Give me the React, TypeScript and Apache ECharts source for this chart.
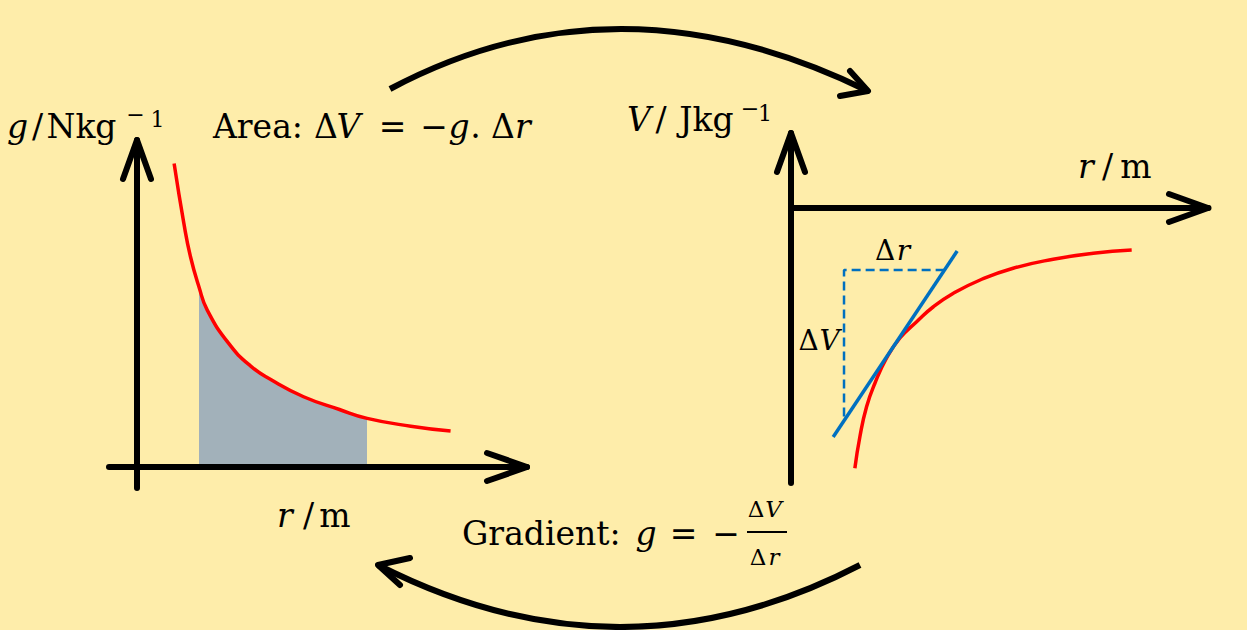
import React, { useEffect, useRef } from "react";
import * as echarts from "echarts";

// ---- Data ----
// Left: field strength g against distance r (arbitrary units)
const gR = [0.95, 1.2, 1.37, 1.59, 1.8, 2.35, 2.9, 3.45, 4.27, 5.19, 5.9, 7.02, 8.04];
const gField = [9.28, 7.45, 6.43, 5.5, 4.8, 3.78, 3.1, 2.66, 2.15, 1.76, 1.49, 1.25, 1.1];
const shadeFromR = 1.59;
const shadeToR = 5.9;

// Right: potential V against distance r
const vR = [1.53, 1.65, 1.81, 2.01, 2.29, 2.61, 3.01, 3.41, 3.89, 4.53, 5.32, 6.28, 7.24, 8.16];
const vPot = [-10.41, -9.15, -7.95, -7.01, -6.0, -5.2, -4.55, -3.95, -3.41, -2.88, -2.41, -2.05, -1.81, -1.68];

// Tangent line and its gradient triangle
const tangentR = [1.01, 3.98];
const tangentV = [-9.16, -1.72];
const triR = [3.68, 1.27, 1.27];
const triV = [-2.48, -2.48, -8.48];

// Axis ranges
const gAxisR = [-0.72, 10];
const gAxisG = [-0.64, 10];
const vAxisR = [0, 10];
const vAxisV = [-11, 3];

const FONT = '"DejaVu Serif", "Liberation Serif", serif';
const BG = "#FEEDAA";
const SMOOTH = 0.5;

const zip = (xs: number[], ys: number[]) => xs.map((x, i) => [x, ys[i]]);

function T(x: number, base: number, s: string, size = 33, italic = false, align = "center") {
  return {
    type: "text",
    z: 10,
    style: {
      x,
      y: base - size * 0.35,
      text: s,
      fill: "#000",
      font: `${italic ? "italic " : ""}${size}px ${FONT}`,
      textAlign: align,
      textVerticalAlign: "middle",
    },
  };
}

function chevron(points: number[][]) {
  return {
    type: "polyline",
    z: 10,
    shape: { points },
    style: { stroke: "#000", lineWidth: 6, fill: null, lineCap: "round", lineJoin: "round" },
  };
}

function hiddenAxis(range: number[], gridIndex: number) {
  return {
    type: "value",
    gridIndex,
    min: range[0],
    max: range[1],
    z: 3,
    axisLine: { show: true, onZero: true, lineStyle: { color: "#000", width: 6 } },
    axisTick: { show: false },
    axisLabel: { show: false },
    splitLine: { show: false },
  };
}

export default function App() {
  const ref = useRef<HTMLDivElement>(null);

  useEffect(() => {
    if (!ref.current) return;
    const chart = echarts.init(ref.current, null, { renderer: "svg" });

    const gData = zip(gR, gField);

    const option: any = {
      animation: false,
      backgroundColor: BG,
      grid: [
        { left: 109, top: 140, width: 418, height: 348 },
        { left: 791, top: 133, width: 417.5, height: 350 },
      ],
      xAxis: [hiddenAxis(gAxisR, 0), hiddenAxis(vAxisR, 1)],
      yAxis: [hiddenAxis(gAxisG, 0), hiddenAxis(vAxisV, 1)],
      visualMap: {
        type: "piecewise",
        show: false,
        seriesIndex: 0,
        dimension: 0,
        pieces: [{ gte: shadeFromR, lte: shadeToR, color: "#A2B1BA" }],
        outOfRange: { color: "rgba(0,0,0,0)" },
      },
      series: [
        {
          // shaded area under the curve between shadeFromR and shadeToR
          type: "line",
          xAxisIndex: 0,
          yAxisIndex: 0,
          data: gData,
          smooth: SMOOTH,
          symbol: "none",
          lineStyle: { width: 0, opacity: 0 },
          areaStyle: { opacity: 1 },
          z: 1,
        },
        {
          type: "line",
          xAxisIndex: 0,
          yAxisIndex: 0,
          data: gData,
          smooth: SMOOTH,
          symbol: "none",
          lineStyle: { color: "#FF0000", width: 3.5 },
          z: 2,
        },
        {
          type: "line",
          xAxisIndex: 1,
          yAxisIndex: 1,
          data: zip(vR, vPot),
          smooth: SMOOTH,
          symbol: "none",
          lineStyle: { color: "#FF0000", width: 3.5 },
          z: 2,
        },
        {
          type: "line",
          xAxisIndex: 1,
          yAxisIndex: 1,
          data: zip(triR, triV),
          symbol: "none",
          lineStyle: { color: "#0070C0", width: 2.5, type: [9, 5] },
          z: 2,
        },
        {
          type: "line",
          xAxisIndex: 1,
          yAxisIndex: 1,
          data: zip(tangentR, tangentV),
          symbol: "none",
          lineStyle: { color: "#0070C0", width: 3.5 },
          z: 3,
        },
      ],
      graphic: [
        // axis arrowheads
        chevron([[123, 179], [137, 140], [151, 179]]),
        chevron([[487, 453], [527, 467], [487, 481]]),
        chevron([[777, 172], [791, 133], [805, 172]]),
        chevron([[1169, 194], [1208, 208], [1169, 222]]),
        // curved arrows
        {
          type: "bezierCurve",
          z: 10,
          shape: { x1: 390, y1: 89, x2: 868, y2: 91, cpx1: 617, cpy1: -32 },
          style: { stroke: "#000", lineWidth: 6, fill: "none" },
        },
        chevron([[850, 71], [868, 91], [840, 96]]),
        {
          type: "bezierCurve",
          z: 10,
          shape: { x1: 860, y1: 565, x2: 378, y2: 565, cpx1: 621, cpy1: 689 },
          style: { stroke: "#000", lineWidth: 6, fill: "none" },
        },
        chevron([[410, 558], [378, 565], [400, 585]]),
        // left axis labels
        T(17.5, 138, "g", 33, true),
        T(37.5, 138, "/"),
        T(81.5, 138, "Nkg"),
        T(135.5, 122, "−", 22),
        T(157.5, 127, "1", 22),
        T(285, 527, "r", 33, true),
        T(308.5, 527, "/"),
        T(335, 527, "m"),
        // area formula
        T(213, 138, "Area:", 33, false, "left"),
        T(326, 138, "Δ"),
        T(348.5, 138, "V", 33, true),
        T(392.5, 138, "="),
        T(434, 138, "−"),
        T(459, 138, "g", 33, true),
        T(475.5, 138, "."),
        T(503, 138, "Δ"),
        T(523, 138, "r", 33, true),
        // right axis labels
        T(639, 131, "V", 33, true),
        T(661, 131, "/"),
        T(706.5, 131, "Jkg"),
        T(750, 116, "−", 22),
        T(765, 121, "1", 22),
        T(1086, 178, "r", 33, true),
        T(1107.5, 178, "/"),
        T(1136, 178, "m"),
        // triangle labels
        T(885, 260, "Δ", 28),
        T(903.5, 260, "r", 28, true),
        T(808.5, 350, "Δ", 28),
        T(829.5, 350, "V", 28, true),
        // gradient formula
        T(462, 545, "Gradient:", 33, false, "left"),
        T(646, 545, "g", 33, true),
        T(683.5, 545, "="),
        T(726, 545, "−"),
        T(756, 517, "Δ", 23),
        T(773.5, 517, "V", 23, true),
        {
          type: "line",
          z: 10,
          shape: { x1: 747, y1: 532, x2: 787, y2: 532 },
          style: { stroke: "#000", lineWidth: 2 },
        },
        T(758, 565, "Δ", 23),
        T(774, 565, "r", 23, true),
      ],
    };

    chart.setOption(option);
    return () => chart.dispose();
  }, []);

  return (
    <div
      ref={ref}
      style={{ position: "fixed", left: 0, top: 0, width: 1247, height: 630, background: BG }}
    />
  );
}
